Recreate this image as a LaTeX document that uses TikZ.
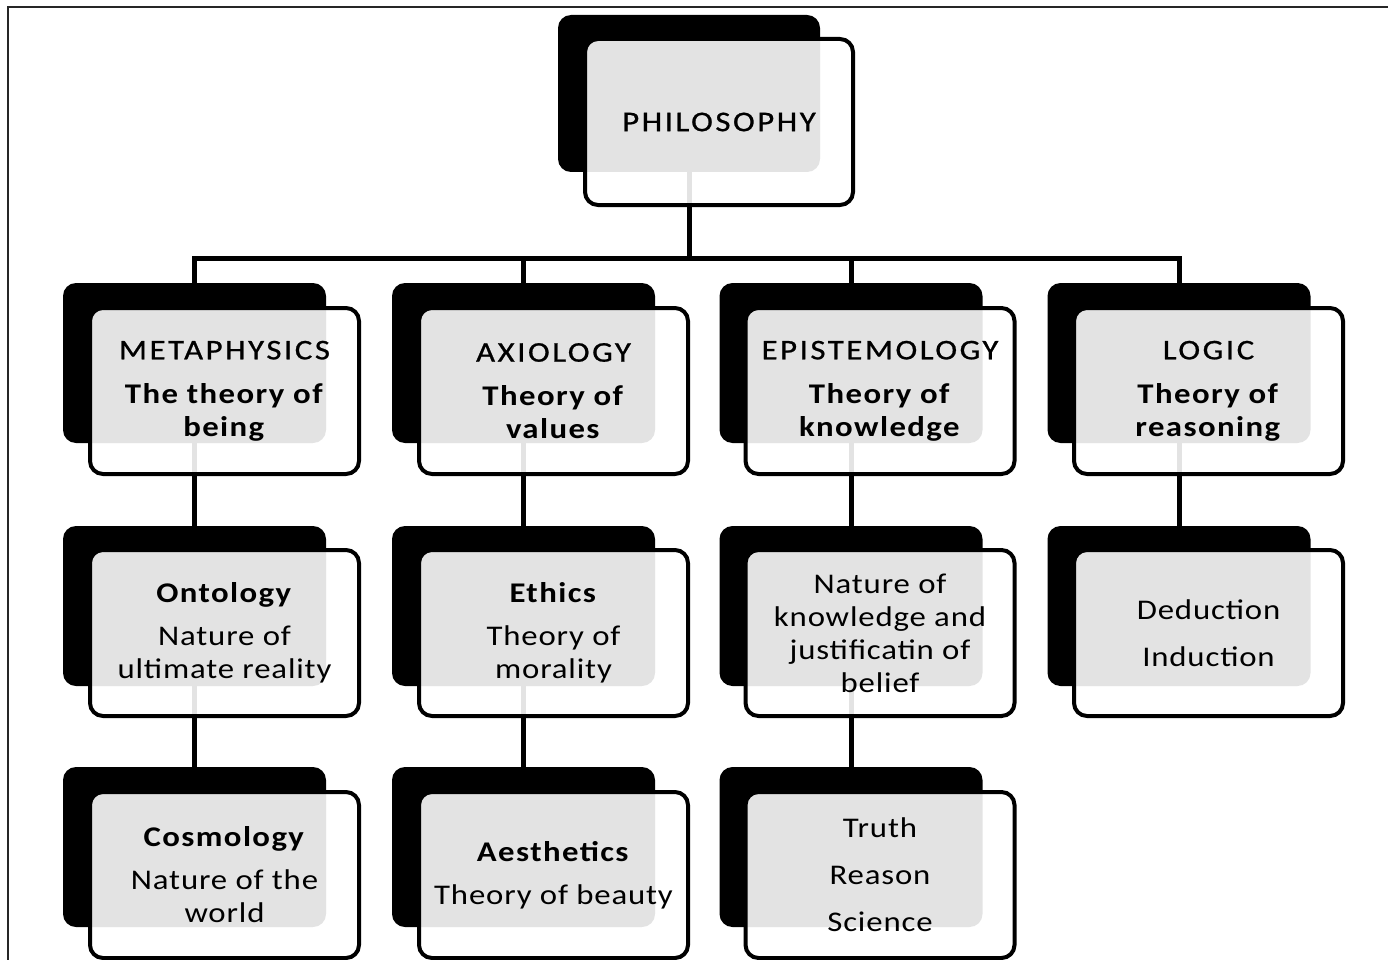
\documentclass[tikz,border=0pt]{standalone}
\usepackage{fontspec}
\setmainfont{Carlito}[FakeStretch=1.15, LetterSpace=3, BoldFeatures={LetterSpace=5}]
\newfontfamily\capsfont{Carlito}[FakeStretch=1.15, LetterSpace=9, FakeBold=0.8]
\pgfdeclarelayer{wires}
\pgfsetlayers{wires,main}
\begin{document}
\begin{tikzpicture}[x=1pt,y=-1pt,
  shadowbox/.style={fill=black, draw=none, rounded corners=13pt, inner sep=0pt,
    minimum width=263pt, minimum height=160pt},
  frontbox/.style={draw=black, line width=4pt, fill=white, fill opacity=0.89,
    text opacity=1, rounded corners=13pt, inner sep=0pt, align=center,
    minimum width=269pt, minimum height=166pt,
    font={\fontsize{28.5}{33}\selectfont}},
  conn/.style={draw=black, line width=5pt, line join=miter}]
\useasboundingbox (0,0) rectangle (1388,960);
\clip (0,0) rectangle (1388,960);
% page frame
\draw[line width=2.5pt, black!85] (8,1000) -- (8,7) -- (1400,7);

% root
\node[shadowbox, minimum width=262pt, minimum height=157pt] (ph-s) at (689,93.5) {};
\node[frontbox, minimum width=268pt] (ph) at (719,122) {{\capsfont PHILOSOPHY}};

% first level
\node[shadowbox] (me-s) at (194.5,363) {};
\node[frontbox] (me) at (224.5,391) {{\capsfont METAPHYSICS}\\[11pt]\textbf{The theory of}\\\textbf{being}};
\node[shadowbox] (ax-s) at (523.5,363) {};
\node[frontbox] (ax) at (553.5,391) {{\capsfont AXIOLOGY}\\[11pt]\textbf{Theory of}\\\textbf{values}};
\node[shadowbox] (ep-s) at (851,363) {};
\node[frontbox] (ep) at (880,391) {{\capsfont EPISTEMOLOGY}\\[11pt]\textbf{Theory of}\\\textbf{knowledge}};
\node[shadowbox] (lo-s) at (1179,363) {};
\node[frontbox] (lo) at (1208.5,391) {{\capsfont LOGIC}\\[11pt]\textbf{Theory of}\\\textbf{reasoning}};

% second level
\node[shadowbox] (on-s) at (194.5,606) {};
\node[frontbox] (on) at (224.5,633) {\textbf{Ontology}\\[10pt]Nature of\\ultimate reality};
\node[shadowbox] (et-s) at (523.5,606) {};
\node[frontbox] (et) at (553.5,633) {\textbf{Ethics}\\[10pt]Theory of\\morality};
\node[shadowbox] (kn-s) at (851,606) {};
\node[frontbox] (kn) at (880,633) {Nature of\\knowledge and\\justificatin of\\belief};
\node[shadowbox] (de-s) at (1179,606) {};
\node[frontbox] (de) at (1208.5,633) {Deduction\\[14pt]Induction};

% third level
\node[shadowbox] (co-s) at (194.5,847) {};
\node[frontbox] (co) at (224.5,875) {\textbf{Cosmology}\\[10pt]Nature of the\\world};
\node[shadowbox] (ae-s) at (523.5,847) {};
\node[frontbox] (ae) at (553.5,875) {\textbf{Aesthetics}\\[10pt]Theory of beauty};
\node[shadowbox] (tr-s) at (851,847) {};
\node[frontbox] (tr) at (880,875) {Truth\\[14pt]Reason\\[14pt]Science};

% connectors, drawn underneath the boxes
\coordinate (bus) at (0,258);
\begin{pgfonlayer}{wires}
  \draw[conn] (ph-s.center) -- (ph-s.center |- bus);
  \draw[conn] (me-s.center) -- (me-s.center |- bus) -- (lo-s.center |- bus) -- (lo-s.center);
  \draw[conn] (ax-s.center |- bus) -- (ax-s.center);
  \draw[conn] (ep-s.center |- bus) -- (ep-s.center);
  \draw[conn] (me-s.center) -- (on-s.center) -- (co-s.center);
  \draw[conn] (ax-s.center) -- (et-s.center) -- (ae-s.center);
  \draw[conn] (ep-s.center) -- (kn-s.center) -- (tr-s.center);
  \draw[conn] (lo-s.center) -- (de-s.center);
\end{pgfonlayer}
\end{tikzpicture}
\end{document}
